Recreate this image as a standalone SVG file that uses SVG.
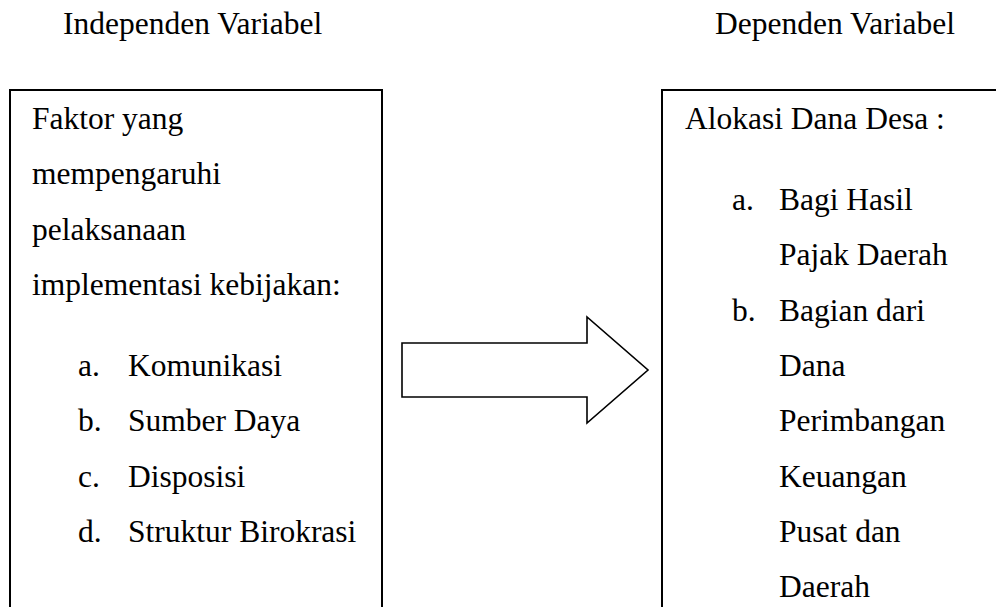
<svg xmlns="http://www.w3.org/2000/svg" width="996" height="607" viewBox="0 0 996 607">
<style>
text{font-family:"Liberation Serif","Times New Roman",serif;font-size:31.5px;fill:#000}
.box{fill:none;stroke:#000;stroke-width:2}
.arrow{fill:#fff;stroke:#000;stroke-width:1.6;stroke-linejoin:miter}
</style>
<rect width="996" height="607" fill="#fff"/>
<g id="header-independen"><text x="63" y="34">Independen Variabel</text></g>
<g id="header-dependen"><text x="715" y="34">Dependen Variabel</text></g>
<g id="node-independen">
<rect class="box" x="10" y="90" width="372" height="540"/>
<text x="32" y="129">Faktor yang</text>
<text x="32" y="184.3">mempengaruhi</text>
<text x="32" y="239.6">pelaksanaan</text>
<text x="32" y="295">implementasi kebijakan:</text>
<text x="78" y="376">a.</text><text x="128" y="376">Komunikasi</text>
<text x="78" y="431.3">b.</text><text x="128" y="431.3">Sumber Daya</text>
<text x="78" y="486.6">c.</text><text x="128" y="486.6">Disposisi</text>
<text x="78" y="542">d.</text><text x="128" y="542">Struktur Birokrasi</text>
</g>
<g id="node-dependen">
<rect class="box" x="662" y="90" width="400" height="540"/>
<text x="685" y="129">Alokasi Dana Desa :</text>
<text x="732" y="210">a.</text><text x="779" y="210">Bagi Hasil</text>
<text x="779" y="265.3">Pajak Daerah</text>
<text x="732" y="320.6">b.</text><text x="779" y="320.6">Bagian dari</text>
<text x="779" y="376">Dana</text>
<text x="779" y="431.3">Perimbangan</text>
<text x="779" y="486.6">Keuangan</text>
<text x="779" y="542">Pusat dan</text>
<text x="779" y="597">Daerah</text>
</g>
<g id="connectors">
<polygon class="arrow" points="402,343 587,343 587,317 648,370 587,423 587,397 402,397"/>
</g>
</svg>
